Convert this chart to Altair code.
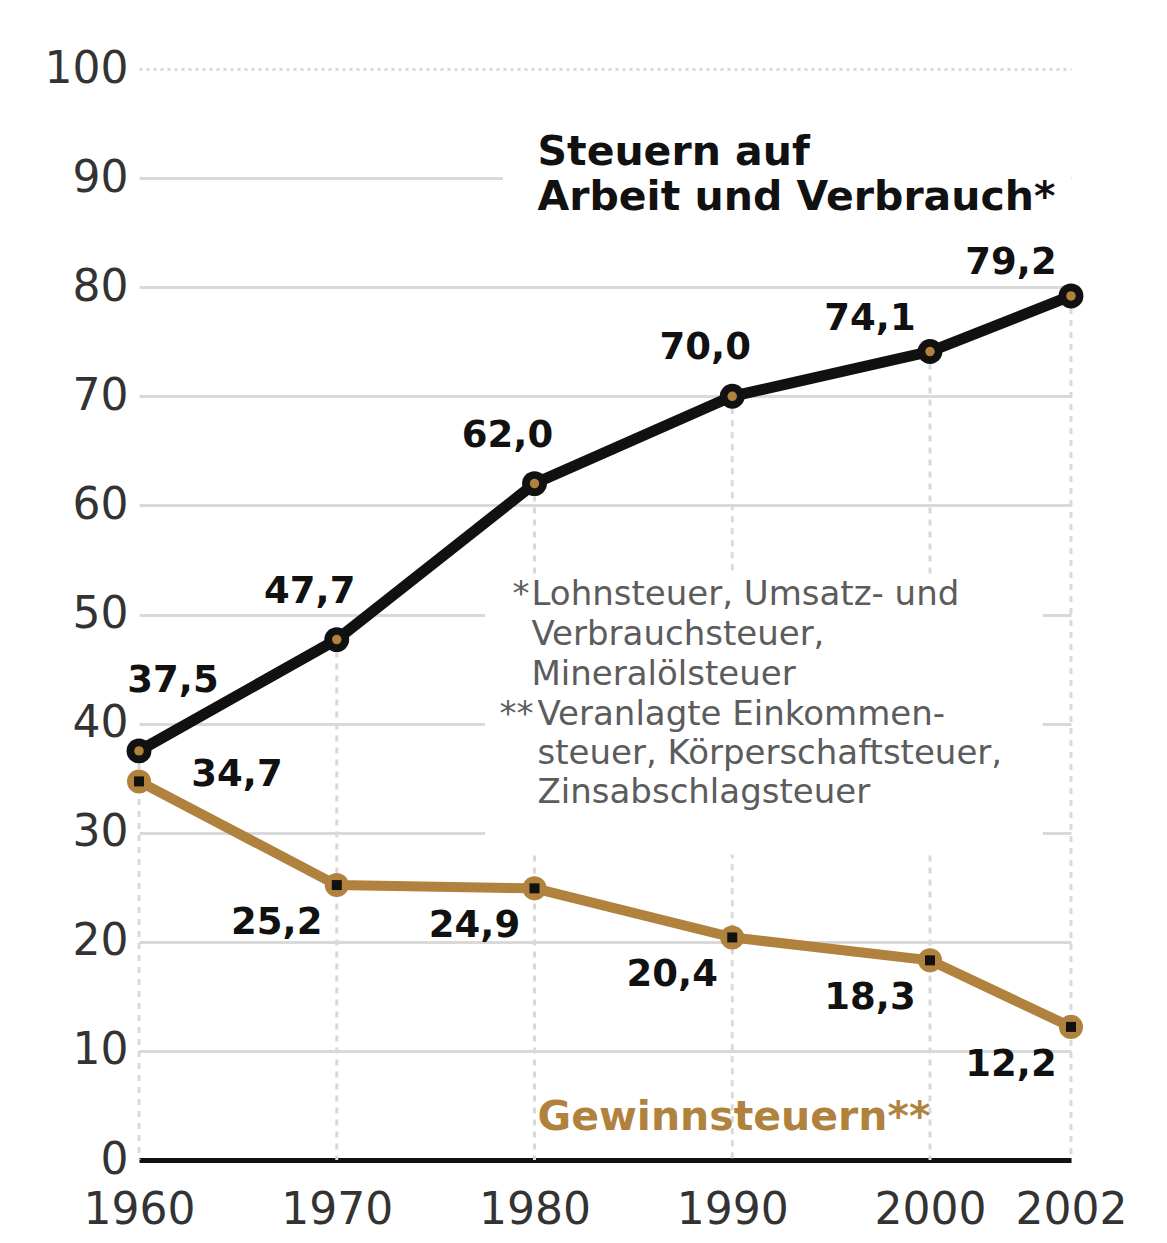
import altair as alt
import pandas as pd

# ---- data ----
years = [1960, 1970, 1980, 1990, 2000, 2002]
arbeit = [37.5, 47.7, 62.0, 70.0, 74.1, 79.2]      # Steuern auf Arbeit und Verbrauch
gewinn = [34.7, 25.2, 24.9, 20.4, 18.3, 12.2]      # Gewinnsteuern
y_ticks = [0, 10, 20, 30, 40, 50, 60, 70, 80, 90, 100]

title_lines = ["Steuern auf", "Arbeit und Verbrauch*"]
note_a = ["Lohnsteuer, Umsatz- und", "Verbrauchsteuer,", "Mineralölsteuer"]
note_b = ["Veranlagte Einkommen-", "steuer, Körperschaftsteuer,", "Zinsabschlagsteuer"]
gewinn_title = "Gewinnsteuern**"


def fmt(v):
    return f"{v:.1f}".replace(".", ",")


df = pd.DataFrame({
    "year": years,
    "arbeit": arbeit,
    "gewinn": gewinn,
    "lab_a": [fmt(v) for v in arbeit],
    "lab_g": [fmt(v) for v in gewinn],
})
one = pd.DataFrame({"k": [0]})

BLACK = "#111111"
GOLD = "#b0823e"
GRID = "#d9d9d9"
FONT = "DejaVu Sans"

W, H = 932, 1091

xscale = alt.Scale(domain=[1960, 2000, 2002], range=[0, 791, W], zero=False, nice=False)
yscale = alt.Scale(domain=[0, 100], zero=True, nice=False)

xaxis = alt.Axis(values=years, format="d", labelFontSize=44, labelFont=FONT,
                 labelColor="#333333", labelPadding=50, labelBaseline="middle",
                 labelFlush=False, labelOverlap=False, labelBound=False,
                 ticks=False, grid=False, domain=True, domainColor=BLACK,
                 domainWidth=5, title=None)
yaxis = alt.Axis(values=y_ticks, labelFontSize=44, labelFont=FONT,
                 labelColor="#333333", labelPadding=11, ticks=False, domain=False,
                 grid=True, gridColor=GRID, gridWidth=3,
                 gridDash={"condition": {"test": "datum.value === 100", "value": [3, 4]},
                           "value": []},
                 title=None)


def X(field="year:Q"):
    return alt.X(field, scale=xscale, axis=xaxis, title=None)


def Y(field):
    return alt.Y(field, scale=yscale, axis=yaxis, title=None)


base = alt.Chart(df)

# vertical dotted guides from 0 up to the upper series
guides = base.mark_rule(color=GRID, strokeWidth=3, strokeDash=[6, 6]).encode(
    x=X(), y=Y("arbeit:Q"), y2=alt.datum(0)
)

# white knock-outs behind the text blocks (grid interrupted as in original)
knock1 = alt.Chart(one).mark_rect(color="white").encode(
    x=alt.X(datum=1978.4, scale=xscale, axis=xaxis, title=None), x2=alt.datum(2002),
    y=alt.Y(datum=86, scale=yscale, axis=yaxis, title=None), y2=alt.datum(94)
)
knock2 = alt.Chart(one).mark_rect(color="white").encode(
    x=alt.X(datum=1977.5, scale=xscale, axis=xaxis, title=None), x2=alt.datum(2001.6),
    y=alt.Y(datum=28, scale=yscale, axis=yaxis, title=None), y2=alt.datum(53.5)
)

line_a = base.mark_line(color=BLACK, strokeWidth=11).encode(x=X(), y=Y("arbeit:Q"))
line_g = base.mark_line(color=GOLD, strokeWidth=10).encode(x=X(), y=Y("gewinn:Q"))

pt_a = base.mark_point(filled=True, shape="circle", size=620, color=BLACK, opacity=1).encode(
    x=X(), y=Y("arbeit:Q"))
pt_a_in = base.mark_point(filled=True, shape="circle", size=90, color=GOLD, opacity=1).encode(
    x=X(), y=Y("arbeit:Q"))
pt_g = base.mark_point(filled=True, shape="circle", size=580, color=GOLD, opacity=1).encode(
    x=X(), y=Y("gewinn:Q"))
pt_g_in = base.mark_point(filled=True, shape="square", size=100, color=BLACK, opacity=1).encode(
    x=X(), y=Y("gewinn:Q"))


def labels(field, text, yrs, dx, dy):
    return base.transform_filter(
        alt.FieldOneOfPredicate(field="year", oneOf=yrs)
    ).mark_text(font=FONT, fontSize=37, fontWeight="bold", color=BLACK,
                align="center", baseline="middle", dx=dx, dy=dy).encode(
        x=X(), y=Y(field), text=alt.Text(text)
    )


lab_a1 = labels("arbeit:Q", "lab_a:N", [1960], 34, -70)
lab_a2 = labels("arbeit:Q", "lab_a:N", [1970, 1980, 1990], -27, -48)
lab_a3 = labels("arbeit:Q", "lab_a:N", [2000, 2002], -60, -33)
lab_g1 = labels("gewinn:Q", "lab_g:N", [1960], 98, -6)
lab_g2 = labels("gewinn:Q", "lab_g:N", [1970, 1980, 1990, 2000, 2002], -60, 38)


def note(text, xval, yval, dx, size, weight, color, align="left", lh=None):
    kw = dict(text=text, font=FONT, fontSize=size, fontWeight=weight, color=color,
              align=align, baseline="alphabetic", dx=dx)
    if lh is not None:
        kw["lineHeight"] = lh
    return alt.Chart(one).mark_text(**kw).encode(
        x=alt.X(datum=xval, scale=xscale, axis=xaxis, title=None),
        y=alt.Y(datum=yval, scale=yscale, axis=yaxis, title=None),
    )


t_title = note(title_lines, 1980, 91.2, 3, 41, "bold", BLACK, lh=45)
t_na = note(note_a, 1980, 50.87, -3, 34, "normal", "#5c5c5c", lh=40)
t_na_star = note("*", 1980, 50.87, -5, 34, "normal", "#5c5c5c", align="right")
t_nb = note(note_b, 1980, 39.87, 3, 34, "normal", "#5c5c5c", lh=39)
t_nb_star = note("**", 1980, 39.87, -1, 34, "normal", "#5c5c5c", align="right")
t_gew = note(gewinn_title, 1980, 2.75, 3, 41, "bold", GOLD)

chart = alt.layer(
    guides, knock1, knock2,
    line_g, line_a,
    pt_a, pt_a_in, pt_g, pt_g_in,
    lab_a1, lab_a2, lab_a3, lab_g1, lab_g2,
    t_title, t_na, t_na_star, t_nb, t_nb_star, t_gew,
).properties(
    width=W, height=H,
    autosize=alt.AutoSizeParams(type="none"),
    padding={"left": 131, "top": 61, "right": 88, "bottom": 75},
    background="white",
).configure_view(stroke=None)

chart.save("out.html", embed_options={"renderer": "svg", "actions": False})
